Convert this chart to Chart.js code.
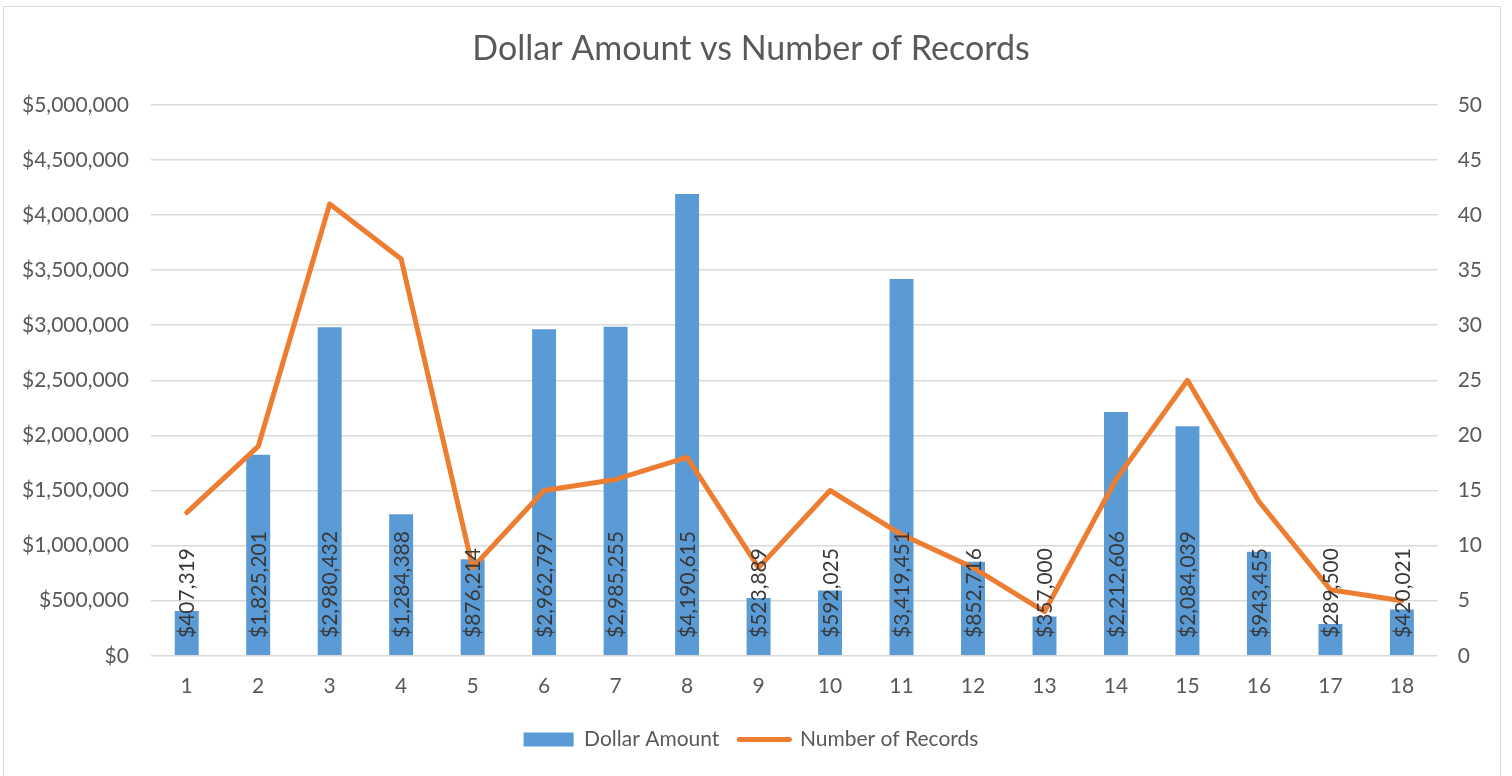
<!DOCTYPE html>
<html lang="en">
<head>
<meta charset="UTF-8">
<title>Dollar Amount vs Number of Records</title>
<style>
  body { margin: 0; background: #fff; }
  .frame { position: absolute; left: 3px; top: 6px; width: 1498px; height: 790px; border: 1px solid #d9d9d9; box-sizing: border-box; }
  .chart-box { position: absolute; left: 0; top: 0; width: 1512px; height: 776px; }
</style>
</head>
<body>
<div class="frame"></div>
<div class="chart-box">
  <canvas id="myChart" width="1512" height="776"></canvas>
</div>

<script src="https://cdn.jsdelivr.net/npm/chart.js"></script>
<script>
// data
const labels = ['1','2','3','4','5','6','7','8','9','10','11','12','13','14','15','16','17','18'];
const dollarAmount = [407319, 1825201, 2980432, 1284388, 876214, 2962797, 2985255, 4190615, 523889,
  592025, 3419451, 852716, 357000, 2212606, 2084039, 943455, 289500, 420021];
const numberOfRecords = [13, 19, 41, 36, 8, 15, 16, 18, 8, 15, 11, 8, 4, 16, 25, 14, 6, 5];

const fontName = 'Lato, "Open Sans", sans-serif';
const gray = '#595959';

function money(v) {
  return '$' + Math.round(v).toLocaleString('en-US');
}

// draws the vertical $ labels at the bottom of each bar
const barLabels = {
  id: 'barLabels',
  afterDatasetsDraw(chart) {
    const ctx = chart.ctx;
    const meta = chart.getDatasetMeta(1);
    ctx.save();
    ctx.font = '21px ' + fontName;
    ctx.fillStyle = '#383838';
    ctx.textAlign = 'left';
    ctx.textBaseline = 'middle';
    meta.data.forEach((bar, i) => {
      ctx.save();
      ctx.translate(bar.x, bar.base - 17);
      ctx.rotate(-Math.PI / 2);
      ctx.fillText(money(dollarAmount[i]), 0, 1);
      ctx.restore();
    });
    ctx.restore();
  }
};

const ctx = document.getElementById('myChart');

var chart = new Chart(ctx, {
  data: {
    labels: labels,
    datasets: [
      {
        type: 'line',
        label: 'Number of Records',
        data: numberOfRecords,
        yAxisID: 'y2',
        borderColor: '#ED7D31',
        backgroundColor: '#ED7D31',
        borderWidth: 5,
        borderCapStyle: 'round',
        borderJoinStyle: 'round',
        pointRadius: 0,
        tension: 0,
        order: 1
      },
      {
        type: 'bar',
        label: 'Dollar Amount',
        data: dollarAmount,
        yAxisID: 'y',
        backgroundColor: '#5B9BD5',
        barPercentage: 1,
        categoryPercentage: 0.335,
        order: 2
      }
    ]
  },
  options: {
    responsive: false,
    animation: false,
    layout: { padding: { left: 0, right: 10, top: 16, bottom: 16 } },
    plugins: {
      title: {
        display: true,
        text: 'Dollar Amount vs Number of Records',
        color: gray,
        font: { family: fontName, size: 34, weight: 'normal' },
        padding: { top: 13, bottom: 35 }
      },
      legend: {
        position: 'bottom',
        reverse: true,
        labels: {
          color: gray,
          font: { family: fontName, size: 21 },
          usePointStyle: true,
          pointStyleWidth: 50,
          boxHeight: 14,
          padding: 20,
          generateLabels(chart) {
            const items = Chart.defaults.plugins.legend.labels.generateLabels(chart);
            items.forEach(it => {
              if (it.datasetIndex === 0) {
                it.pointStyle = 'line';
                it.lineWidth = 5;
                it.lineCap = 'round';
              } else {
                it.pointStyle = 'rect';
                it.lineWidth = 0;
              }
            });
            return items;
          }
        }
      },
      tooltip: { enabled: false }
    },
    scales: {
      x: {
        grid: { display: false },
        border: { display: false },
        ticks: { color: gray, font: { family: fontName, size: 21 }, padding: 10 }
      },
      y: {
        position: 'left',
        min: 0,
        max: 5000000,
        ticks: {
          stepSize: 500000,
          color: gray,
          font: { family: fontName, size: 21 },
          padding: 22,
          callback: (v) => money(v)
        },
        grid: { color: '#d9d9d9', lineWidth: 1.5, drawTicks: false },
        border: { display: false }
      },
      y2: {
        position: 'right',
        min: 0,
        max: 50,
        ticks: { stepSize: 5, color: gray, font: { family: fontName, size: 21 }, padding: 20 },
        grid: { display: false, drawTicks: false },
        border: { display: false }
      }
    }
  },
  plugins: [barLabels]
});
</script>
</body>
</html>
